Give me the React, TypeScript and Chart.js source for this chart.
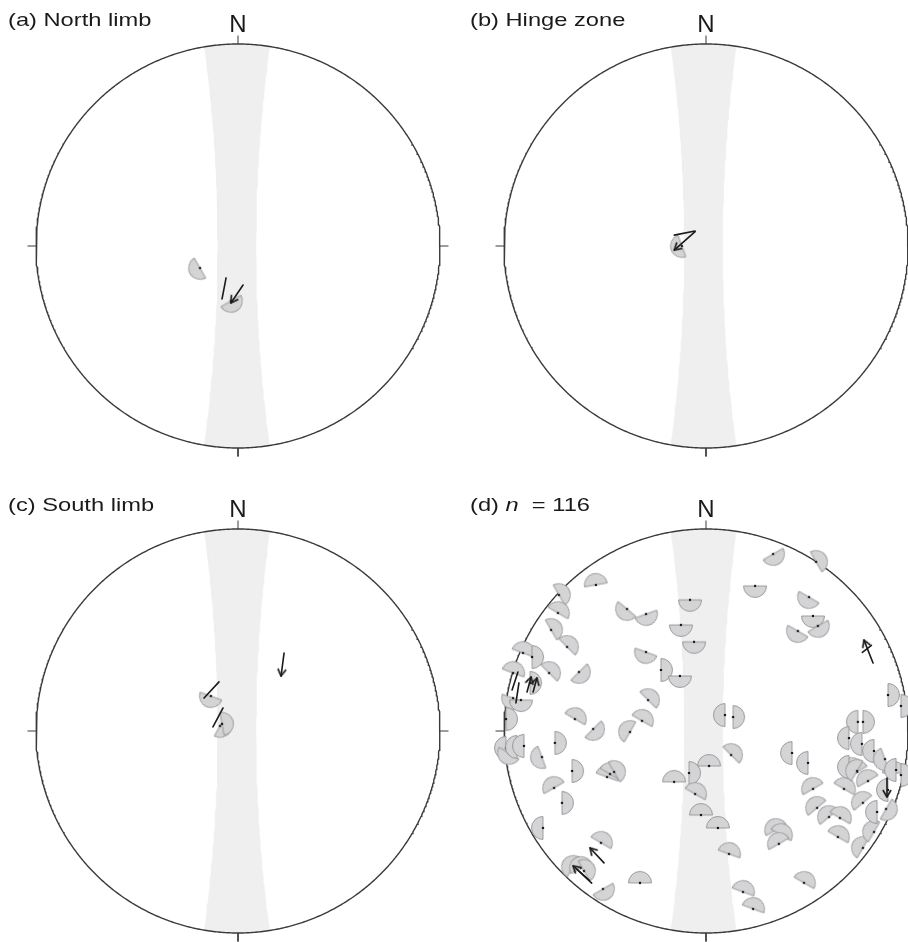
import React, { useEffect, useRef } from "react";
import { Chart, registerables } from "chart.js";
Chart.register(...registerables);

// ---------- DATA (projection units: primitive circle radius = 100) ----------
// (a) North limb
const aWedgeX = [-18.8, -3.5];
const aWedgeY = [-10.9, -27.2];
const aWedgeDir = [240, 150];
const aSegX0 = [-7.9, 2.5];
const aSegY0 = [-26.2, -19.3];
const aSegX1 = [-5.9, -3.5];
const aSegY1 = [-15.8, -28.2];
const aSegHead = [0, 1];

// (b) Hinge zone
const bWedgeX = [-11.9];
const bWedgeY = [0.0];
const bWedgeDir = [250];
const bSegX0 = [-15.7, -5.4];
const bSegY0 = [5.4, 7.1];
const bSegX1 = [-5.4, -15.7];
const bSegY1 = [7.4, -2.0];
const bSegHead = [0, 1];

// (c) South limb
const cWedgeX = [-13.4, -8.9, -7.9];
const cWedgeY = [17.3, 2.5, 3.5];
const cWedgeDir = [200, 120, 80];
const cSegX0 = [22.8, -16.8, -12.4];
const cSegY0 = [38.6, 16.3, 2.0];
const cSegX1 = [21.3, -9.4, -7.4];
const cSegY1 = [27.2, 24.3, 11.4];
const cSegHead = [1, 0, 0];

// (d) all data, n = 116
const dWedgeX = [
  -54.5, -72.8, -73.3, -76.7, -68.8, -90.6, -86.1, -39.1, -29.7, -7.9,
  -12.4, -5.9, -29.7, -22.3, -12.9, -62.9, -77.7, -95.5, -87.1, -95.5,
  -91.6, -28.7, -99.0, -64.9, -55.9, -37.6, -31.7, -74.8, -99.0, -97.5,
  -93.6, -90.1, -81.2, -66.3, -49.0, -47.5, -45.5, -15.8, -8.4, -5.4,
  -2.5, 1.5, -75.2, -71.3, -80.7, -52.0, -65.8, -61.9, -60.4, -51.0,
  -32.7, 5.9, 11.4, 18.3, 23.3, 48.5, 34.7, 37.1, 36.1, 53.0,
  55.0, 60.9, 66.3, 65.3, 68.3, 72.3, 74.8, 80.2, 77.7, 77.7,
  83.2, 84.7, 89.1, 90.1, 93.1, 96.5, 33.2, 54.5, 24.3, 51.0,
  53.0, 55.4, 45.5, 90.1, 96.5, 9.4, 13.4, 75.2, 77.7, 70.8,
  77.2, 83.2, 88.6, 94.1, 70.8, 74.8, 42.6, 50.5, 12.4,
];
const dWedgeY = [
  72.3, 67.3, 58.4, 50.0, 41.6, 38.6, 36.6, 60.4, 57.9, 64.9,
  52.5, 44.1, 39.1, 30.2, 27.2, 29.2, 28.7, 28.7, 23.8, 16.3,
  15.3, 15.3, 5.9, 5.9, 1.0, -0.5, 5.0, -5.9, -8.4, -10.9,
  -7.9, -7.4, -12.9, -19.8, -22.8, -21.3, -20.3, -25.2, -20.8, -31.2,
  -41.6, -17.3, -28.2, -35.6, -48.0, -55.4, -67.3, -67.8, -69.3, -78.2,
  -75.2, -48.0, -60.9, -79.7, -88.1, -75.2, -49.0, -51.5, -55.9, -28.7,
  -38.1, -42.6, -43.1, -52.5, -28.7, -18.8, -20.3, -24.8, -35.6, -57.9,
  -50.0, -40.1, -38.6, -29.2, -20.8, -21.8, 87.6, 83.7, 71.8, 66.3,
  56.9, 52.0, 49.5, 17.8, 12.4, 7.9, 6.9, 4.5, 4.5, -3.5,
  -6.4, -9.9, -13.9, -19.3, -17.8, -19.8, -10.9, -15.8, -11.9,
];
const dWedgeDir = [
  350, 60, 30, 60, 45, 20, 90, 220, 160, 180,
  180, 180, 200, 90, 180, 135, 45, 20, 90, 200,
  180, 45, 90, 30, 135, 300, 30, 90, 270, 210,
  270, 270, 250, 90, 20, 30, 60, 0, 90, 30,
  0, 0, 330, 90, 270, 30, 300, 330, 60, 150,
  0, 0, 20, 20, 20, 30, 330, 30, 330, 330,
  320, 320, 30, 30, 30, 330, 330, 330, 320, 300,
  300, 270, 120, 270, 0, 90, 150, 60, 180, 210,
  180, 150, 210, 90, 90, 270, 90, 270, 90, 270,
  270, 270, 250, 270, 270, 300, 270, 270, 45,
];
const dSegX0 = [82.7, 77.4, 89.6, -50.5, -57.9, -56.6, -96.0, -94.1, -88.6, -85.6];
const dSegY0 = [33.7, 38.9, -23.3, -65.3, -73.8, -75.3, 20.3, 13.9, 19.3, 19.3];
const dSegX1 = [78.2, 81.9, 89.6, -57.4, -65.8, -64.0, -93.1, -92.6, -86.6, -83.7];
const dSegY1 = [45.0, 42.4, -32.7, -57.9, -66.8, -68.3, 29.2, 23.8, 26.7, 26.2];
const dSegHead = [1, 0, 1, 1, 1, 0, 0, 0, 1, 1];

const panelTitles = ["(a) North limb", "(b) Hinge zone", "(c) South limb", "(d)"];
const northLabel = "N";

// ---------- LAYOUT / STYLE ----------
const PX = 2.02; // pixels per projection unit
const HALF = 230; // half canvas size in px
const LAYOUT = [
  { cx: 238, cy: 246, band: -0.5 },
  { cx: 706, cy: 246, band: -1.2 },
  { cx: 238, cy: 731, band: -0.5 },
  { cx: 706, cy: 731, band: -1.2 },
];
const BAND_MID = 9.4;
const BAND_EDGE = 16.3;

const PANEL_DATA = [
  { wx: aWedgeX, wy: aWedgeY, wd: aWedgeDir, sx0: aSegX0, sy0: aSegY0, sx1: aSegX1, sy1: aSegY1, sh: aSegHead },
  { wx: bWedgeX, wy: bWedgeY, wd: bWedgeDir, sx0: bSegX0, sy0: bSegY0, sx1: bSegX1, sy1: bSegY1, sh: bSegHead },
  { wx: cWedgeX, wy: cWedgeY, wd: cWedgeDir, sx0: cSegX0, sy0: cSegY0, sx1: cSegX1, sy1: cSegY1, sh: cSegHead },
  { wx: dWedgeX, wy: dWedgeY, wd: dWedgeDir, sx0: dSegX0, sy0: dSegY0, sx1: dSegX1, sy1: dSegY1, sh: dSegHead },
];

function makeWedge(): HTMLCanvasElement {
  const c = document.createElement("canvas");
  c.width = 28;
  c.height = 28;
  const g = c.getContext("2d")!;
  g.beginPath();
  g.moveTo(14, 14);
  g.arc(14, 14, 11.5, Math.PI, 2 * Math.PI);
  g.closePath();
  g.fillStyle = "#d4d4d6";
  g.fill();
  g.lineWidth = 0.8;
  g.strokeStyle = "#8a8a8a";
  g.stroke();
  g.beginPath();
  g.arc(14, 14, 1.2, 0, Math.PI * 2);
  g.fillStyle = "#111";
  g.fill();
  return c;
}

function makeHead(): HTMLCanvasElement {
  const c = document.createElement("canvas");
  c.width = 20;
  c.height = 20;
  const g = c.getContext("2d")!;
  g.beginPath();
  g.moveTo(10 - 3.8, 10 + 6.5);
  g.lineTo(10, 10);
  g.lineTo(10 + 3.8, 10 + 6.5);
  g.lineWidth = 1.6;
  g.lineCap = "round";
  g.lineJoin = "round";
  g.strokeStyle = "#1a1a1a";
  g.stroke();
  return c;
}

function bandOutline(shift: number) {
  const w = (y: number) => BAND_MID + (BAND_EDGE - BAND_MID) * (y / 100) ** 2;
  const solve = (sign: number) => {
    let y = 98;
    for (let i = 0; i < 30; i++) {
      const x = shift + sign * w(y);
      y = Math.sqrt(10000 - x * x);
    }
    return y;
  };
  const yl = solve(-1);
  const yr = solve(1);
  const pts: { x: number; y: number }[] = [];
  const N = 60;
  for (let i = 0; i <= N; i++) {
    const y = yl - (2 * yl * i) / N;
    pts.push({ x: shift - w(y), y });
  }
  const aL = Math.atan2(-yl, shift - w(yl));
  const aR = Math.atan2(-yr, shift + w(yr));
  for (let i = 1; i < 12; i++) {
    const a = aL + ((aR - aL) * i) / 12;
    pts.push({ x: 100 * Math.cos(a), y: 100 * Math.sin(a) });
  }
  for (let i = 0; i <= N; i++) {
    const y = -yr + (2 * yr * i) / N;
    pts.push({ x: shift + w(y), y });
  }
  const tR = Math.atan2(yr, shift + w(yr));
  const tL = Math.atan2(yl, shift - w(yl));
  for (let i = 1; i <= 12; i++) {
    const a = tR + ((tL - tR) * i) / 12;
    pts.push({ x: 100 * Math.cos(a), y: 100 * Math.sin(a) });
  }
  return pts;
}

function circlePoints() {
  const pts: { x: number; y: number }[] = [];
  for (let i = 0; i <= 720; i++) {
    const a = (i / 720) * Math.PI * 2;
    pts.push({ x: 100 * Math.cos(a), y: 100 * Math.sin(a) });
  }
  return pts;
}

function Panel({ idx }: { idx: number }) {
  const ref = useRef<HTMLCanvasElement>(null);
  useEffect(() => {
    const lay = LAYOUT[idx];
    const d = PANEL_DATA[idx];
    const wedge = makeWedge();
    const head = makeHead();
    const datasets: any[] = [];
    datasets.push({
      data: bandOutline(lay.band),
      showLine: true,
      fill: "shape",
      backgroundColor: "#efefef",
      borderColor: "#efefef",
      borderWidth: 0.5,
      pointRadius: 0,
      order: 20,
    });
    datasets.push({
      data: circlePoints(),
      showLine: true,
      fill: false,
      borderColor: "#3a3a3a",
      borderWidth: 1.4,
      pointRadius: 0,
      order: 15,
    });
    const T = 4.2;
    const ticks = [
      [0, 100, 0, 100 + T],
      [0, -100, 0, -100 - T],
      [100, 0, 100 + T, 0],
      [-100, 0, -100 - T, 0],
    ];
    ticks.forEach((t) =>
      datasets.push({
        data: [
          { x: t[0], y: t[1] },
          { x: t[2], y: t[3] },
        ],
        showLine: true,
        fill: false,
        borderColor: "#3a3a3a",
        borderWidth: 1,
        pointRadius: 0,
        order: 15,
      })
    );
    datasets.push({
      data: d.wx.map((x, i) => ({ x, y: d.wy[i] })),
      pointStyle: wedge,
      pointRotation: d.wd,
      pointRadius: 6,
      showLine: false,
      order: 5,
    });
    d.sx0.forEach((x0, i) => {
      const x1 = d.sx1[i];
      const y0 = d.sy0[i];
      const y1 = d.sy1[i];
      const ang = (Math.atan2(x1 - x0, y1 - y0) * 180) / Math.PI;
      datasets.push({
        data: [
          { x: x0, y: y0 },
          { x: x1, y: y1 },
        ],
        showLine: true,
        fill: false,
        borderColor: "#1a1a1a",
        borderWidth: 1.6,
        borderCapStyle: "round",
        pointStyle: head,
        pointRadius: [0, d.sh[i] ? 5 : 0],
        pointRotation: [0, ang],
        order: 1,
      });
    });
    const H = HALF / PX;
    const chart = new Chart(ref.current!, {
      type: "scatter",
      data: { datasets },
      options: {
        animation: false,
        responsive: false,
        maintainAspectRatio: false,
        events: [],
        layout: { padding: 0, autoPadding: false },
        elements: { line: { tension: 0 } },
        plugins: {
          legend: { display: false },
          tooltip: { enabled: false },
          title: { display: false },
        },
        scales: {
          x: { type: "linear", min: -H, max: H, display: false },
          y: { type: "linear", min: -H, max: H, display: false },
        },
      },
    });
    return () => chart.destroy();
  }, [idx]);
  const lay = LAYOUT[idx];
  return (
    <canvas
      ref={ref}
      width={HALF * 2}
      height={HALF * 2}
      style={{
        position: "absolute",
        left: lay.cx - HALF,
        top: lay.cy - HALF,
        width: HALF * 2,
        height: HALF * 2,
      }}
    />
  );
}

const FONT = '"Liberation Sans", Arial, Helvetica, sans-serif';

export default function App() {
  const titleTops = [11, 11, 496, 496];
  const titleLefts = [8, 470, 8, 470];
  return (
    <div
      style={{
        position: "fixed",
        left: 0,
        top: 0,
        width: 908,
        height: 942,
        overflow: "hidden",
        background: "#fff",
        fontFamily: FONT,
        color: "#1a1a1a",
      }}
    >
      {[0, 1, 2, 3].map((i) => (
        <Panel key={i} idx={i} />
      ))}
      {[0, 1, 2, 3].map((i) => (
        <div
          key={"t" + i}
          style={{
            position: "absolute",
            left: titleLefts[i],
            top: titleTops[i],
            fontSize: 18.5,
            lineHeight: "18px",
            whiteSpace: "nowrap",
            transform: "scaleX(1.28)",
            transformOrigin: "left top",
          }}
        >
          {i === 3 ? (
            <span>
              {panelTitles[3] + " "}
              <i>n</i>
              {" \u00a0= 116"}
            </span>
          ) : (
            panelTitles[i]
          )}
        </div>
      ))}
      {[0, 1, 2, 3].map((i) => (
        <div
          key={"n" + i}
          style={{
            position: "absolute",
            left: LAYOUT[i].cx - 20,
            width: 40,
            top: LAYOUT[i].cy - 234,
            fontSize: 24,
            lineHeight: "24px",
            textAlign: "center",
          }}
        >
          {northLabel}
        </div>
      ))}
    </div>
  );
}
